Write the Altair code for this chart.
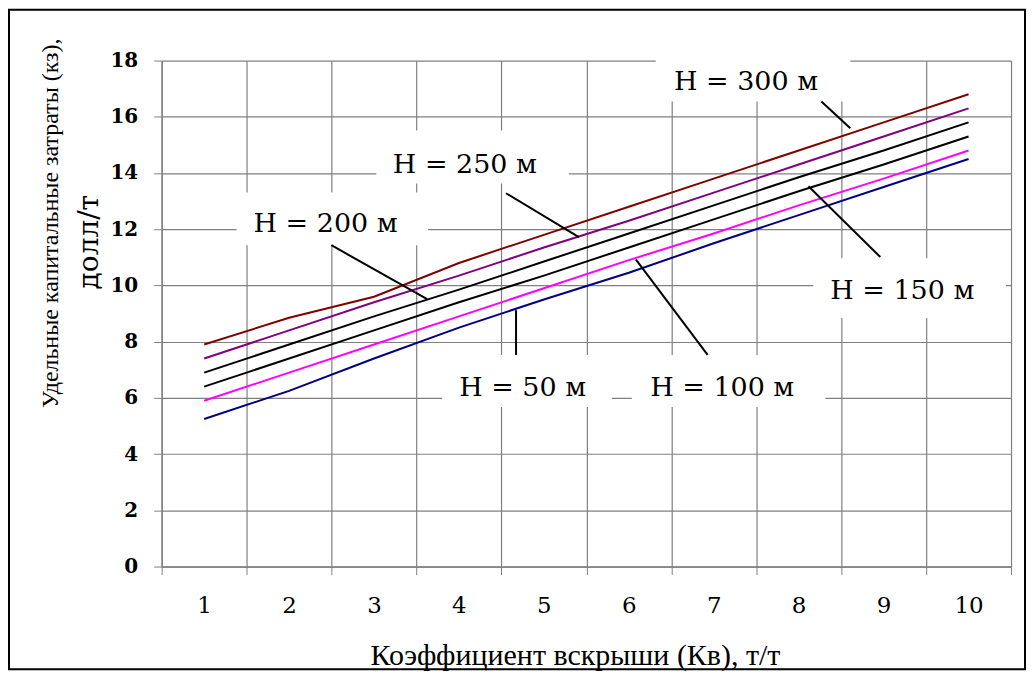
import altair as alt
import pandas as pd

# ---- data ----
kv = [1, 2, 3, 4, 5, 6, 7, 8, 9, 10]
h50 = [5.25, 6.25, 7.4, 8.5, 9.5, 10.45, 11.5, 12.5, 13.5, 14.5]
h100 = [5.9, 6.9, 7.9, 8.9, 9.9, 10.9, 11.85, 12.85, 13.8, 14.8]
h150 = [6.4, 7.4, 8.4, 9.4, 10.35, 11.35, 12.35, 13.35, 14.3, 15.3]
h200 = [6.9, 7.9, 8.9, 9.85, 10.85, 11.85, 12.85, 13.85, 14.8, 15.8]
h250 = [7.4, 8.4, 9.4, 10.35, 11.35, 12.3, 13.3, 14.3, 15.3, 16.3]
h300 = [7.9, 8.85, 9.6, 10.8, 11.8, 12.8, 13.8, 14.8, 15.8, 16.8]

series_names = ["H = 50 м", "H = 100 м", "H = 150 м", "H = 200 м", "H = 250 м", "H = 300 м"]
series_values = [h50, h100, h150, h200, h250, h300]
series_colors = ["#000080", "#FF00FF", "#000000", "#000000", "#800080", "#800000"]

y_ticks = [0, 2, 4, 6, 8, 10, 12, 14, 16, 18]
x_bounds = [0.5, 1.5, 2.5, 3.5, 4.5, 5.5, 6.5, 7.5, 8.5, 9.5, 10.5]

x_title = "Коэффициент вскрыши (Кв), т/т"
y_title_1 = "Удельные капитальные затраты (кз),"
y_title_2 = "долл/т"

# annotation label boxes / text / leader lines (data coordinates)
lab_text = ["H = 300 м", "H = 250 м", "H = 200 м", "H = 150 м", "H = 50 м", "H = 100 м"]
lab_x = [7.38, 4.07, 2.43, 9.22, 4.75, 7.10]
lab_y = [16.97, 14.0, 11.9, 9.5, 6.05, 6.05]
box_x0 = [6.317, 3.026, 1.381, 8.173, 3.802, 6.035]
box_x1 = [8.608, 5.294, 3.637, 10.441, 5.800, 8.314]
box_y0 = [16.54, 13.63, 11.43, 8.84, 5.68, 5.68]
box_y1 = [18.07, 15.51, 13.31, 10.97, 7.53, 7.53]
lead_x0 = [8.267, 4.554, 2.498, 8.115, 4.672, 6.082]
lead_y0 = [16.54, 13.28, 11.43, 13.53, 9.12, 10.93]
lead_x1 = [8.608, 5.412, 3.626, 8.961, 4.672, 6.928]
lead_y1 = [15.59, 11.72, 9.51, 11.01, 7.53, 7.53]

rows = []
for name, vals in zip(series_names, series_values):
    for x, v in zip(kv, vals):
        rows.append({"kv": x, "val": v, "series": name})
df = pd.DataFrame(rows)

ann = pd.DataFrame({
    "t": lab_text, "lx": lab_x, "ly": lab_y,
    "bx0": box_x0, "bx1": box_x1, "by0": box_y0, "by1": box_y1,
    "ax0": lead_x0, "ay0": lead_y0, "ax1": lead_x1, "ay1": lead_y1,
})
one = pd.DataFrame({"a": [0]})

xs = alt.Scale(domain=[0.5, 10.5], nice=False, zero=False)
ys = alt.Scale(domain=[0, 18], nice=False, zero=True)

x_axis = alt.Axis(
    values=x_bounds,
    labelExpr="datum.value < 10 ? format(datum.value + 0.5, 'd') : ''",
    labelOffset=42.5, labelFlush=False, labelOverlap=False, labelBound=False,
    labelFont="DejaVu Serif", labelFontSize=23, labelColor="#000000",
    labelPadding=20, labelBaseline="top",
    tickSize=8, tickColor="#808080", tickWidth=1,
    domainColor="#808080", domainWidth=1.5,
    grid=True, gridColor="#808080", gridWidth=1.2,
    title=x_title, titleFont="Liberation Serif", titleFontSize=30,
    titleFontWeight="normal", titleColor="#000000",
    titleX=414, titleY=98, titleAlign="center", titleBaseline="alphabetic",
)
y_axis = alt.Axis(
    values=y_ticks, labelFont="DejaVu Serif", labelFontSize=20, labelFontWeight="bold",
    labelColor="#000000",
    labelPadding=16, tickSize=8, tickColor="#808080", tickWidth=1,
    domainColor="#808080", domainWidth=1.5,
    grid=True, gridColor="#808080", gridWidth=1.2, title=None,
)

lines = alt.Chart(df).mark_line(strokeWidth=2).encode(
    x=alt.X("kv:Q", scale=xs, axis=x_axis),
    y=alt.Y("val:Q", scale=ys, axis=y_axis),
    color=alt.Color("series:N", scale=alt.Scale(domain=series_names, range=series_colors), legend=None),
    detail="series:N",
)

boxes = alt.Chart(ann).mark_rect(fill="#ffffff", strokeWidth=0).encode(
    x=alt.X("bx0:Q", scale=xs, axis=x_axis), x2="bx1:Q",
    y=alt.Y("by0:Q", scale=ys, axis=y_axis), y2="by1:Q",
)

leaders = alt.Chart(ann).mark_rule(color="#000000", strokeWidth=2).encode(
    x=alt.X("ax0:Q", scale=xs, axis=x_axis), x2="ax1:Q",
    y=alt.Y("ay0:Q", scale=ys, axis=y_axis), y2="ay1:Q",
)

labels = alt.Chart(ann).mark_text(
    font="DejaVu Serif", fontSize=27, color="#000000", align="center", baseline="alphabetic"
).encode(
    x=alt.X("lx:Q", scale=xs, axis=x_axis),
    y=alt.Y("ly:Q", scale=ys, axis=y_axis),
    text="t:N",
)

yt1 = alt.Chart(one).mark_text(
    text=y_title_1, font="Liberation Serif", fontSize=24, angle=270,
    align="center", baseline="alphabetic", color="#000000"
).encode(x=alt.value(-104), y=alt.value(163))

yt2 = alt.Chart(one).mark_text(
    text=y_title_2, font="DejaVu Serif", fontSize=28, angle=270,
    align="center", baseline="alphabetic", color="#000000"
).encode(x=alt.value(-64), y=alt.value(182))

frame = alt.Chart(one).mark_rect(fillOpacity=0, stroke="#000000", strokeWidth=2).encode(
    x=alt.value(-153), x2=alt.value(865), y=alt.value(-51), y2=alt.value(610)
)

chart = alt.layer(boxes, lines, leaders, labels, yt1, yt2, frame).properties(
    width=851, height=507,
    autosize=alt.AutoSizeParams(type="none"),
    padding={"left": 154, "top": 52, "right": 15, "bottom": 105},
    background="#ffffff",
).configure_view(stroke="transparent")

chart.save("out.html", embed_options={"renderer": "svg", "actions": False})
